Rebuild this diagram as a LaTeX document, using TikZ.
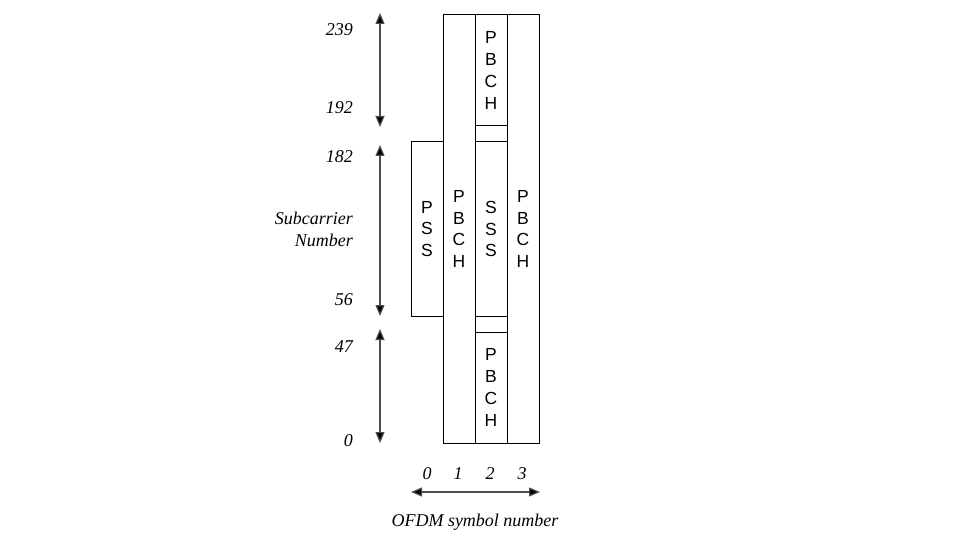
\documentclass[tikz,border=0pt]{standalone}
\usepackage{fontspec}
\setmainfont{Liberation Serif}
\newfontfamily\boxfont{Liberation Sans}
\usetikzlibrary{arrows.meta}
\begin{document}
\begin{tikzpicture}[x=1pt,y=-1pt,
  box/.style={draw=black, line width=1pt, inner sep=0pt, outer sep=0pt, minimum width=32pt,
    align=center, font=\boxfont\fontsize{17.5}{21.7}\selectfont},
  lab/.style={inner sep=0pt, font=\itshape\fontsize{18}{22}\selectfont},
  dim/.style={draw=black!70, line width=1.2pt, {Triangle[length=11pt,width=9pt,fill=black]}-{Triangle[length=11pt,width=9pt,fill=black]}}]
\useasboundingbox (0,0) rectangle (965,545);
% columns
\node[box, minimum height=174pt] (pss) at (427,229) {P\\S\\S};
\node[box, minimum height=428pt] (c1) at (459,229) {P\\B\\C\\H};
\node[box, minimum height=111pt] (pbchtop) at (491,70.5) {P\\B\\C\\H};
\node[box, minimum height=16pt] (gaptop) at (491,134) {};
\node[box, minimum height=174pt] (sss) at (491,229) {S\\S\\S};
\node[box, minimum height=16pt] (gapbot) at (491,324) {};
\node[box, minimum height=111pt] (pbchbot) at (491,387.5) {P\\B\\C\\H};
\node[box, minimum height=428pt] (c3) at (523,229) {P\\B\\C\\H};
% vertical dimension arrows
\coordinate (a1t) at (380,13);
\coordinate (a1b) at (380,127);
\coordinate (a2t) at (380,145);
\coordinate (a2b) at (380,316);
\coordinate (a3t) at (380,329);
\coordinate (a3b) at (380,443);
\draw[dim] (a1t) -- (a1b);
\draw[dim] (a2t) -- (a2b);
\draw[dim] (a3t) -- (a3b);
% labels
\node[lab, anchor=east] (l239) at (353,30) {239};
\node[lab, anchor=east] (l192) at (353,108) {192};
\node[lab, anchor=east] (l182) at (353,157) {182};
\node[lab, anchor=east, align=right] (lsub) at (353,229) {Subcarrier\\Number};
\node[lab, anchor=east] (l56) at (353,300) {56};
\node[lab, anchor=east] (l47) at (353,347) {47};
\node[lab, anchor=east] (l0) at (353,441) {0};
% bottom axis
\node[lab] (s0) at (427,474) {0};
\node[lab] (s1) at (458,474) {1};
\node[lab] (s2) at (490,474) {2};
\node[lab] (s3) at (522,474) {3};
\coordinate (hl) at (411,492);
\coordinate (hr) at (540,492);
\draw[dim] (hl) -- (hr);
\node[lab] (ofdm) at (475,522) {OFDM symbol number};
\end{tikzpicture}
\end{document}
